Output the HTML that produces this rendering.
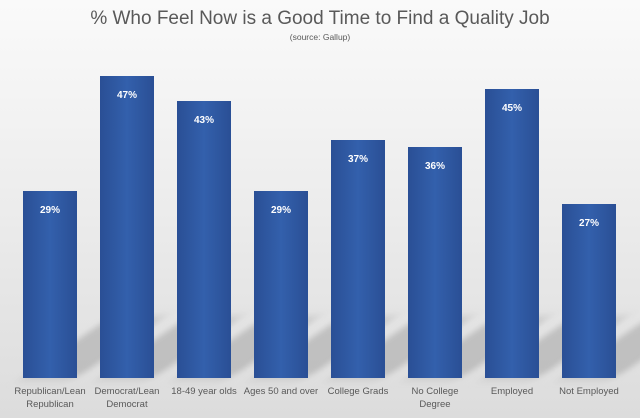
<!DOCTYPE html>
<html><head><style>
html,body{margin:0;padding:0}
body{width:640px;height:418px;overflow:hidden;font-family:"Liberation Sans",sans-serif;background:linear-gradient(#fafafa 0%,#ececec 50%,#dcdcdc 100%);position:relative}
.t{position:absolute;left:0;width:640px;text-align:center;color:#595959}
.bar{position:absolute;width:54px;background:linear-gradient(90deg,#2a4f95 0%,#3360ac 50%,#2a4f95 100%);}
.bar span{position:absolute;top:14px;width:100%;text-align:center;color:#fff;font-weight:bold;font-size:10px}
.sh{position:absolute;height:60px;width:54px;background:rgba(150,150,150,0.45);filter:blur(5px);transform:skewX(-55deg);transform-origin:bottom left}
.lb{position:absolute;top:385px;width:80px;text-align:center;font-size:9.5px;color:#595959;line-height:13px}
</style></head><body>
<div class="t" style="top:8px;font-size:19px">% Who Feel Now is a Good Time to Find a Quality Job</div>
<div class="t" style="top:32px;font-size:8.5px">(source: Gallup)</div>
<div class="sh" style="left:23px;top:318px"></div>
<div class="sh" style="left:100px;top:318px"></div>
<div class="sh" style="left:177px;top:318px"></div>
<div class="sh" style="left:254px;top:318px"></div>
<div class="sh" style="left:331px;top:318px"></div>
<div class="sh" style="left:408px;top:318px"></div>
<div class="sh" style="left:485px;top:318px"></div>
<div class="sh" style="left:562px;top:318px"></div>
<div class="bar" style="left:23px;top:191px;height:187px"><span>29%</span></div>
<div class="bar" style="left:100px;top:76px;height:302px"><span>47%</span></div>
<div class="bar" style="left:177px;top:101px;height:277px"><span>43%</span></div>
<div class="bar" style="left:254px;top:191px;height:187px"><span>29%</span></div>
<div class="bar" style="left:331px;top:140px;height:238px"><span>37%</span></div>
<div class="bar" style="left:408px;top:147px;height:231px"><span>36%</span></div>
<div class="bar" style="left:485px;top:89px;height:289px"><span>45%</span></div>
<div class="bar" style="left:562px;top:204px;height:174px"><span>27%</span></div>
<div class="lb" style="left:10px">Republican/Lean Republican</div>
<div class="lb" style="left:87px">Democrat/Lean Democrat</div>
<div class="lb" style="left:164px">18-49 year olds</div>
<div class="lb" style="left:241px;width:80px">Ages 50 and over</div>
<div class="lb" style="left:318px">College Grads</div>
<div class="lb" style="left:395px">No College Degree</div>
<div class="lb" style="left:472px">Employed</div>
<div class="lb" style="left:549px">Not Employed</div>
</body></html>
